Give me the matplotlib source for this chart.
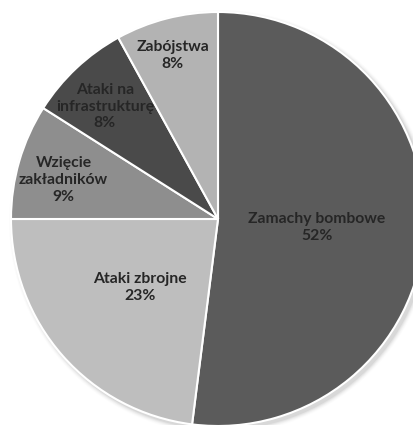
import numpy as np
import matplotlib.pyplot as plt

labels = ['Zamachy bombowe', 'Ataki zbrojne', 'Wzięcie\nzakładników',
          'Ataki na\ninfrastrukturę', 'Zabójstwa']
values = [52, 23, 9, 8, 8]
colors = ['#5b5b5b', '#bebebe', '#8e8e8e', '#4a4a4a', '#b3b3b3']
# how far out (fraction of radius) each label sits, plus a small angle nudge
label_r = [0.48, 0.50, 0.77, 0.77, 0.82]
label_da = [-1.5, 0, 2.0, 2.0, 1.0]

W, H = 414, 425
cx, cy, R = 218, H - 219, 207

fig = plt.figure(figsize=(W / 100, H / 100), dpi=100)
ax = fig.add_axes([0, 0, 1, 1])

# soft shadow under the pie
for i, a in enumerate(np.linspace(0.05, 0.01, 5)):
    sh = plt.Circle((cx + 3, cy - 3), R + 1 + i, color='black', alpha=a, lw=0, zorder=0)
    ax.add_patch(sh)

wedges, _ = ax.pie(values, colors=colors, startangle=90, counterclock=False,
                   center=(cx, cy), radius=R, frame=True,
                   wedgeprops=dict(edgecolor='white', linewidth=1.5))
ax.set_xlim(0, W)
ax.set_ylim(0, H)
ax.axis('off')

for w, lab, v, f, da in zip(wedges, labels, values, label_r, label_da):
    ang = np.deg2rad((w.theta1 + w.theta2) / 2 + da)
    x = cx + f * R * np.cos(ang)
    y = cy + f * R * np.sin(ang)
    ax.text(x, y, '%s\n%d%%' % (lab, v), ha='center', va='center',
            fontsize=11.3, fontweight='bold', family=['Lato', 'DejaVu Sans'],
            color='#262626', linespacing=1.25)

fig.savefig('out.png', dpi=100)
